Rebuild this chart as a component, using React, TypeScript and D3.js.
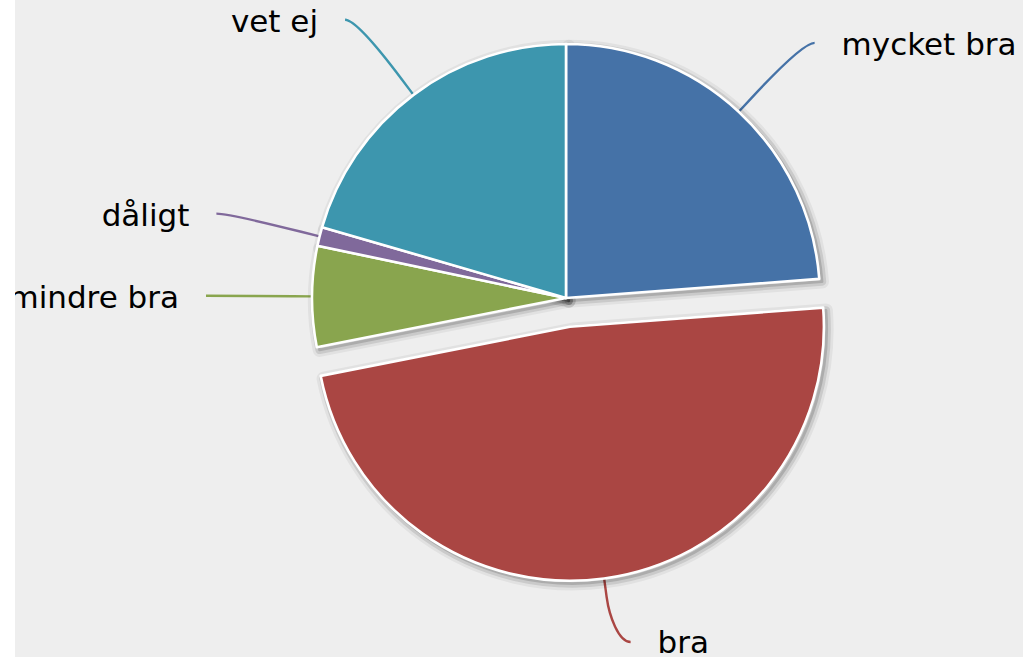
import React from 'react';
import * as d3 from 'd3';

const categories = ['mycket bra', 'bra', 'mindre bra', 'dåligt', 'vet ej'];
const values = [23.8, 48.1, 6.4, 1.2, 20.5];
const colors = ['#4572A7', '#AA4643', '#89A54E', '#80699B', '#3D96AE'];
const sliced = [false, true, false, false, false];

const W = 1023;
const H = 657;
const CX = 566;
const CY = 298;
const R = 254;
const LABEL_DIST = 94;
const CONNECTOR_OFFSET = 19;
const SLICED_OFFSET = 29;
const LABEL_Y_MAX = 642;
const SCALE = 2.78;

export default function App() {
  const pie = d3
    .pie<number>()
    .sort(null)
    .value((d) => d)
    .startAngle(0)
    .endAngle(2 * Math.PI);
  const arcs = pie(values);
  const arcGen = d3.arc<d3.PieArcDatum<number>>().innerRadius(0).outerRadius(R);

  const items = arcs.map((a, i) => {
    const mid = (a.startAngle + a.endAngle) / 2;
    const dx = Math.sin(mid);
    const dy = -Math.cos(mid);
    const off = sliced[i] ? SLICED_OFFSET : 0;
    const cx = CX + dx * off;
    const cy = CY + dy * off;
    const edge = [cx + dx * R, cy + dy * R];
    const brk = [cx + dx * (R + CONNECTOR_OFFSET), cy + dy * (R + CONNECTOR_OFFSET)];
    const RL = R + LABEL_DIST;
    let ly = CY + dy * RL;
    const clamped = ly > LABEL_Y_MAX;
    ly = Math.min(ly, LABEL_Y_MAX);
    const right = dx >= 0;
    const lx = CX + (right ? 1 : -1) * Math.sqrt(Math.max(0, RL * RL - (ly - CY) * (ly - CY)));
    const start = lx + (right ? 12 : -12);
    const path = `M${start},${ly} C${lx},${ly} ${2 * brk[0] - edge[0]},${2 * brk[1] - edge[1]} ${brk[0]},${brk[1]} L${edge[0]},${edge[1]}`;
    return { a, i, cx, cy, lx, ly, right, path, clamped };
  });

  return (
    <div style={{ position: 'absolute', left: 0, top: 0 }}>
      <svg width={W} height={H} style={{ display: 'block' }}>
        <rect x={0} y={0} width={W} height={H} fill="#EEEEEE" />
        {/* connectors */}
        {items.map((it) => (
          <path
            key={'c' + it.i}
            d={it.path}
            fill="none"
            stroke={colors[it.i]}
            strokeWidth={2.4}
          />
        ))}
        {/* shadows */}
        <g>
          {items.map((it) =>
            [1, 2, 3].map((k) => (
              <path
                key={'s' + it.i + '-' + k}
                d={arcGen(it.a) || ''}
                transform={`translate(${it.cx + SCALE},${it.cy + SCALE})`}
                fill="none"
                stroke="#000"
                strokeOpacity={0.05 * k}
                strokeWidth={(7 - 2 * k) * SCALE}
                strokeLinejoin="round"
              />
            ))
          )}
        </g>
        {/* slices */}
        <g>
          {items.map((it) => (
            <path
              key={'p' + it.i}
              d={arcGen(it.a) || ''}
              transform={`translate(${it.cx},${it.cy})`}
              fill={colors[it.i]}
              stroke="#FFFFFF"
              strokeWidth={2.6}
              strokeLinejoin="round"
            />
          ))}
        </g>
        {/* labels */}
        {items.map((it) => (
          <text
            key={'t' + it.i}
            x={it.right ? it.lx + 39 : it.lx - 39}
            y={it.ly + (it.clamped ? 11 : 12.5)}
            textAnchor={it.right ? 'start' : 'end'}
            fontFamily="'DejaVu Sans', Verdana, sans-serif"
            fontSize={31}
            fill="#000"
          >
            {categories[it.i]}
          </text>
        ))}
        <rect x={0} y={0} width={15} height={H} fill="#FFFFFF" />
      </svg>
    </div>
  );
}
